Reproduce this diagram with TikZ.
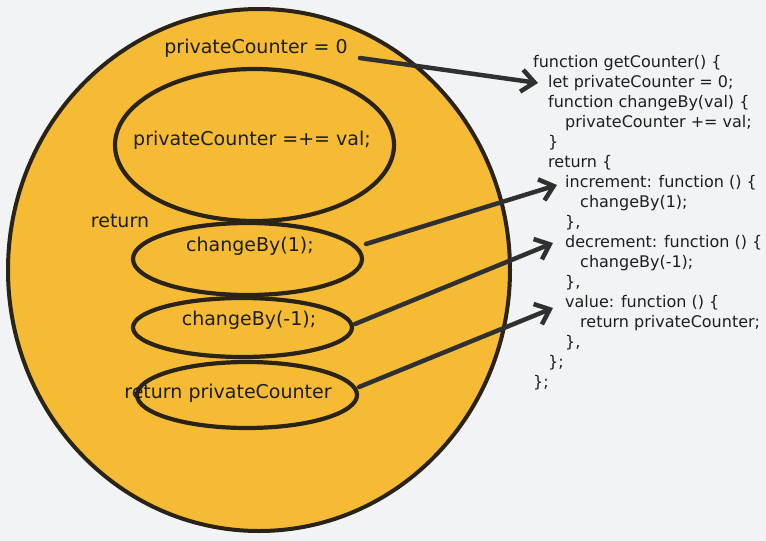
\documentclass[tikz,border=0pt]{standalone}
\usepackage{fontspec}
\setmainfont{DejaVu Sans}
\usetikzlibrary{arrows.meta,shapes.geometric}
\definecolor{bg}{HTML}{F1F3F5}
\definecolor{sun}{HTML}{F6BB35}
\definecolor{ink}{HTML}{2A2418}
\definecolor{arr}{HTML}{303030}
\definecolor{txt}{HTML}{1E1E1E}
\begin{document}
\begin{tikzpicture}[x=1pt,y=-1pt,
  blob/.style={draw=ink, ellipse, inner sep=0, line width=4.2pt},
  lbl/.style={font=\fontsize{19}{23}\selectfont, text=txt, inner sep=0},
  codeline/.style={font=\fontsize{16}{20}\selectfont, text=txt, anchor=west, inner sep=0, text height=12pt, text depth=4pt},
  link/.style={draw=arr, line width=4.5pt, line cap=round, -{Straight Barb[length=13pt,width=22pt]}}]
\fill[bg] (0,0) rectangle (766,541);
\useasboundingbox (0,0) rectangle (766,541);
% outer circle
\node[blob, fill=sun, minimum width=502pt, minimum height=522pt, line width=4pt] (outer) at (259,270) {};
% inner ellipses
\node[blob, minimum width=279pt, minimum height=152pt] (e1) at (254.5,145) {};
\node[blob, minimum width=229pt, minimum height=72pt] (e2) at (247.5,259) {};
\node[blob, minimum width=219pt, minimum height=59pt] (e3) at (242.5,327.5) {};
\node[blob, minimum width=220pt, minimum height=66pt] (e4) at (247,395) {};
% labels
\node[lbl] (t0) at (256,48) {privateCounter = 0};
\node[lbl] (t1) at (252,140) {privateCounter =+= val;};
\node[lbl] (t2) at (120,221) {return};
\node[lbl] (t3) at (250,246) {changeBy(1);};
\node[lbl] (t4) at (249,320) {changeBy(-1);};
\node[lbl] (t5) at (228,393) {return privateCounter};
% code
\node[codeline] (c1) at (533,63) {function getCounter() \{};
\node[codeline] (c2) at (548,83) {let privateCounter = 0;};
\node[codeline] (c3) at (548,103) {function changeBy(val) \{};
\node[codeline] (c4) at (565,123) {privateCounter += val;};
\node[codeline] (c5) at (548,143) {\}};
\node[codeline] (c6) at (548,163) {return \{};
\node[codeline] (c7) at (565,183) {increment: function () \{};
\node[codeline] (c8) at (580,203) {changeBy(1);};
\node[codeline] (c9) at (565,223) {\},};
\node[codeline] (c10) at (565,243) {decrement: function () \{};
\node[codeline] (c11) at (580,263) {changeBy(-1);};
\node[codeline] (c12) at (565,283) {\},};
\node[codeline] (c13) at (565,303) {value: function () \{};
\node[codeline] (c14) at (580,323) {return privateCounter;};
\node[codeline] (c15) at (565,343) {\},};
\node[codeline] (c16) at (548,363) {\};};
\node[codeline] (c17) at (533,383) {\};};
% arrow starts
\coordinate (s1) at (360,58);
\coordinate (s2) at (366,244);
\coordinate (s3) at (355,324);
\coordinate (s4) at (359,387);
\draw[link] (s1) -- ([xshift=-10pt]c2.west);
\draw[link] (s2) -- ([xshift=-8pt,yshift=-2pt]c7.west);
\draw[link] (s3) -- ([xshift=-12pt]c10.west);
\draw[link] (s4) -- ([xshift=-12pt,yshift=-5pt]c13.west);
\end{tikzpicture}
\end{document}
